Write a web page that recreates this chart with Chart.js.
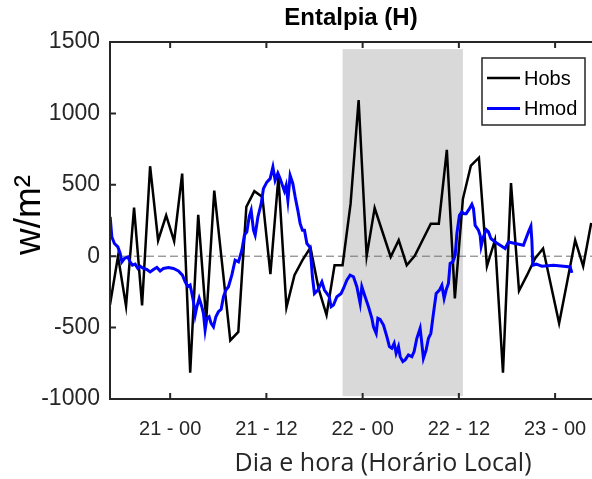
<!DOCTYPE html>
<html>
<head>
<meta charset="utf-8">
<script src="https://cdn.jsdelivr.net/npm/chart.js@4/dist/chart.umd.min.js"></script>
<style>
  html, body { margin: 0; padding: 0; background: #ffffff; overflow: hidden; }
  #wrap { width: 592px; height: 479px; }
</style>
</head>
<body>
<div id="wrap"><canvas id="c" width="592" height="479"></canvas></div>
<script>
// ---------------- DATA ----------------
const chartTitle = "Entalpia (H)";
const yAxisTitle = "w/m\u00B2";
const xAxisTitle = "Dia e hora (Hor\u00E1rio Local)";
const seriesNames = ["Hobs", "Hmod"];

// x in hours relative to day 21, 00:00 (local time)
const xTickHours  = [0, 12, 24, 36, 48];
const xTickLabels = ["21 - 00", "21 - 12", "22 - 00", "22 - 12", "23 - 00"];
const yTickValues = [-1000, -500, 0, 500, 1000, 1500];

// Hobs: hourly observations, first sample at -7.5 h
const hobsStartHour = -7.5;
const hobsValues = [
  -340, 0, -350, 340, -345, 630, 110, 285, 105, 578,
  -815, 290, -450, 460, -65, -590, -530, 345, 455, 415,
  -125, 555, -360, -133, -28, 60, -225, -412, -63, -63,
  368, 1094, 0, 337, 166, -5, 112, -63, 2, 115,
  228, 228, 745, -295, 400, 635, 690, -70, 112, -815,
  512, -242, -133, -16, 54, -208, -470, -180, 112, -70,
  233
];

// Hmod: model output
const hmodHours = [
  -7.48, -7.27, -6.95, -6.52, -6.23, -6.02, -5.70, -5.27, -4.99, -4.70,
  -4.36, -4.03, -3.74, -3.33, -2.91, -2.49, -2.08, -1.66, -1.25, -0.84,
  -0.21, 0.41, 1.03, 1.53, 1.87, 2.21, 2.49, 2.71, 2.91, 3.12,
  3.33, 3.62, 3.95, 4.15, 4.36, 4.58, 4.86, 5.11, 5.40, 5.70,
  6.02, 6.36, 6.65, 6.95, 7.27, 7.69, 8.10, 8.52, 8.94, 9.26,
  9.56, 9.85, 10.10, 10.39, 10.60, 10.94, 11.35, 11.63, 12.06, 12.47,
  12.81, 13.09, 13.43, 13.72, 14.00, 14.25, 14.46, 14.68, 14.96, 15.30,
  15.59, 15.92, 16.21, 16.50, 16.75, 17.05, 17.46, 17.74, 17.99, 18.42,
  18.92, 19.24, 19.54, 19.83, 20.07, 20.36, 20.79, 21.32, 21.61, 22.03,
  22.44, 22.86, 23.28, 23.69, 23.90, 24.31, 24.73, 25.15, 25.35, 25.69,
  25.90, 26.18, 26.60, 27.02, 27.34, 27.64, 27.93, 28.18, 28.47, 28.68,
  29.01, 29.30, 29.71, 30.14, 30.42, 30.76, 31.17, 31.38, 31.58, 31.92,
  32.21, 32.51, 32.83, 33.17, 33.58, 33.88, 34.16, 34.41, 34.70, 34.91,
  35.25, 35.54, 35.75, 36.07, 36.37, 36.66, 36.91, 37.32, 37.62, 37.82,
  38.03, 38.44, 38.65, 38.78, 39.06, 39.40, 39.69, 39.99, 40.52, 41.15,
  41.77, 42.18, 43.02, 44.05, 44.68, 44.98, 45.10, 45.22, 45.64, 46.35,
  47.79, 49.04, 49.88, 50.09
];
const hmodValues = [
  275, 135, 89, 65, 19, -40, -16, -5, -40, -63,
  -56, -86, -70, -86, -93, -110, -93, -79, -103, -86,
  -79, -86, -103, -133, -179, -214, -202, -261, -319, -412,
  -354, -295, -354, -400, -517, -435, -424, -470, -494, -424,
  -389, -372, -284, -237, -214, -133, -28, -40, 42, 147,
  170, 275, 321, 182, 147, 275, 368, 473, 519, 543,
  624, 531, 582, 543, 496, 456, 496, 391, 566, 508,
  414, 321, 228, 182, 182, 89, 61, -144, -261, -237,
  -179, -237, -261, -284, -354, -342, -284, -261, -226, -168,
  -133, -144, -214, -330, -214, -284, -354, -435, -494, -540,
  -435, -442, -482, -563, -633, -645, -610, -680, -633, -703,
  -738, -726, -691, -703, -668, -575, -505, -610, -715, -656,
  -575, -540, -400, -261, -237, -203, -295, -237, -191, -51,
  -40, 7, 158, 286, 310, 298, 298, 333, 363, 333,
  216, 182, 147, 70, 135, 186, 170, 124, 100, 77,
  54, 100, 89, 77, 170, 209, 112, -63, -56, -70,
  -63, -70, -75, -117
];

// Shaded night period (hours) and its vertical extent
const shadeHours = [21.5, 36.5];
const shadeValues = [-980, 1450];
const xRange = [-7.5, 52.6];
const yRange = [-1000, 1500];
const zeroLevel = 0;

// ---------------- CHART ----------------
const AXIS_COLOR = "#262626";
const hobsData = hobsValues.map((v, i) => ({ x: hobsStartHour + i, y: v }));
const hmodData = hmodHours.map((h, i) => ({ x: h, y: hmodValues[i] }));
const zeroData = [{ x: xRange[0], y: zeroLevel }, { x: xRange[1], y: zeroLevel }];

const decorPlugin = {
  id: "decor",
  beforeDatasetsDraw(chart) {
    const { ctx, scales: { x, y } } = chart;
    const x0 = x.getPixelForValue(shadeHours[0]);
    const x1 = x.getPixelForValue(shadeHours[1]);
    const y0 = y.getPixelForValue(shadeValues[1]);
    const y1 = y.getPixelForValue(shadeValues[0]);
    ctx.save();
    ctx.fillStyle = "#d9d9d9";
    ctx.fillRect(x0, y0, x1 - x0, y1 - y0);
    ctx.restore();
  },
  afterDatasetsDraw(chart) {
    const { ctx, chartArea: a, scales: { x, y } } = chart;
    ctx.save();
    // axes frame (left, top, bottom)
    ctx.strokeStyle = AXIS_COLOR;
    ctx.lineWidth = 2;
    ctx.beginPath();
    ctx.moveTo(a.right + 2, a.top);
    ctx.lineTo(a.left, a.top);
    ctx.lineTo(a.left, a.bottom);
    ctx.lineTo(a.right + 2, a.bottom);
    ctx.stroke();
    // inward ticks
    ctx.beginPath();
    yTickValues.forEach(v => {
      const py = y.getPixelForValue(v);
      ctx.moveTo(a.left, py); ctx.lineTo(a.left + 6, py);
    });
    xTickHours.forEach(h => {
      const px = x.getPixelForValue(h);
      ctx.moveTo(px, a.bottom); ctx.lineTo(px, a.bottom - 6);
      ctx.moveTo(px, a.top); ctx.lineTo(px, a.top + 6);
    });
    ctx.stroke();

    // legend
    const lx = 482, ly = 58, lw = 103, lh = 67;
    ctx.fillStyle = "#ffffff";
    ctx.fillRect(lx, ly, lw, lh);
    ctx.lineWidth = 1.5;
    ctx.strokeStyle = AXIS_COLOR;
    ctx.strokeRect(lx, ly, lw, lh);
    const ds = chart.data.datasets.filter(d => seriesNames.includes(d.label));
    ds.forEach((d, i) => {
      const yy = ly + 20 + i * 30.5;
      ctx.strokeStyle = d.borderColor;
      ctx.lineWidth = d.borderWidth;
      ctx.beginPath();
      ctx.moveTo(lx + 5, yy); ctx.lineTo(lx + 38, yy);
      ctx.stroke();
      ctx.fillStyle = "#000000";
      ctx.font = "20px 'Liberation Sans', Arial, sans-serif";
      ctx.textBaseline = "middle";
      ctx.textAlign = "left";
      ctx.fillText(d.label, lx + 42, yy + 1);
    });

    // titles
    ctx.fillStyle = "#000000";
    ctx.font = "bold 24px 'Liberation Sans', Arial, sans-serif";
    ctx.textAlign = "center";
    ctx.textBaseline = "middle";
    ctx.fillText(chartTitle, 351, 18);

    ctx.fillStyle = AXIS_COLOR;
    ctx.font = "25px 'Open Sans', sans-serif";
    ctx.fillText(xAxisTitle, 383, 464);

    ctx.save();
    ctx.translate(30, 215);
    ctx.rotate(-Math.PI / 2);
    ctx.fillStyle = "#000000";
    ctx.font = "37px 'Liberation Sans', Arial, sans-serif";
    ctx.fillText(yAxisTitle, 0, 0);
    ctx.restore();
    ctx.restore();
  }
};

new Chart(document.getElementById("c"), {
  type: "line",
  data: {
    datasets: [
      { label: "zero", data: zeroData, borderColor: "#6e6e6e", borderWidth: 1, borderDash: [8, 4], pointRadius: 0, order: 3 },
      { label: seriesNames[0], data: hobsData, borderColor: "#000000", borderWidth: 2.5, pointRadius: 0, tension: 0, order: 2 },
      { label: seriesNames[1], data: hmodData, borderColor: "#0000ff", borderWidth: 3, pointRadius: 0, tension: 0, order: 1 }
    ]
  },
  options: {
    responsive: false,
    animation: false,
    devicePixelRatio: 1,
    layout: { padding: { top: 42, right: 0, left: 0, bottom: 0 } },
    plugins: { legend: { display: false }, tooltip: { enabled: false }, title: { display: false } },
    scales: {
      x: {
        type: "linear",
        min: xRange[0], max: xRange[1],
        grid: { display: false, drawTicks: false },
        border: { display: false },
        afterBuildTicks: s => { s.ticks = xTickHours.map(v => ({ value: v })); },
        afterFit: s => { s.height = 80; s.paddingLeft = 0; s.paddingRight = 0; },
        ticks: {
          autoSkip: false, maxRotation: 0, padding: 18,
          color: AXIS_COLOR,
          font: { family: "'Liberation Sans', Arial, sans-serif", size: 20 },
          callback: (v) => { const i = xTickHours.indexOf(v); return i >= 0 ? xTickLabels[i] : ""; }
        }
      },
      y: {
        type: "linear",
        min: yRange[0], max: yRange[1],
        grid: { display: false, drawTicks: false },
        border: { display: false },
        afterBuildTicks: s => { s.ticks = yTickValues.map(v => ({ value: v })); },
        afterFit: s => { s.width = 110; s.paddingTop = 0; s.paddingBottom = 0; },
        ticks: {
          padding: 10,
          color: AXIS_COLOR,
          font: { family: "'Liberation Sans', Arial, sans-serif", size: 23 },
          callback: v => String(v)
        }
      }
    }
  },
  plugins: [decorPlugin]
});
</script>
</body>
</html>
